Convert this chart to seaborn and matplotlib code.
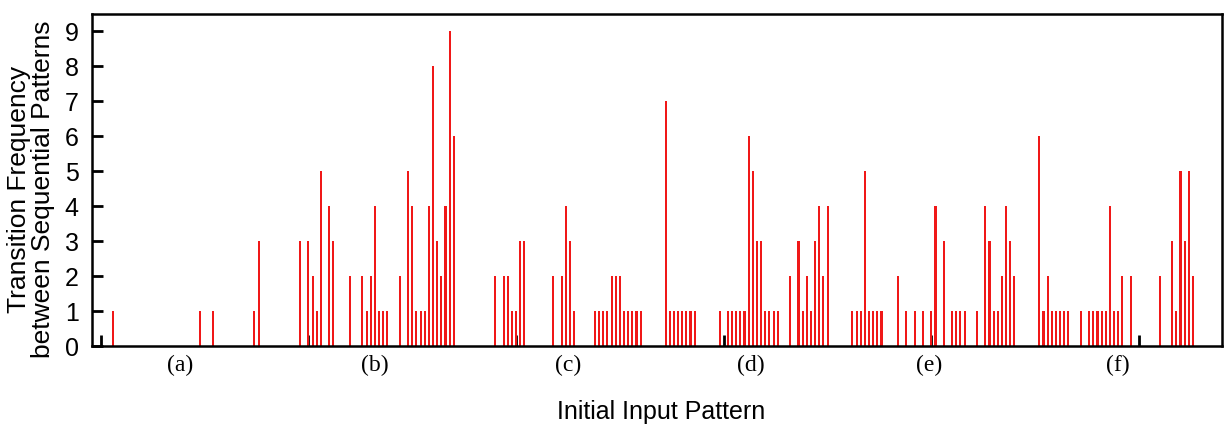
import numpy as np
import pandas as pd
import matplotlib
matplotlib.use('Agg')
import matplotlib.pyplot as plt
import seaborn as sns

# input pattern index (x) and transition frequency (y)
pattern_idx = [3, 24, 27, 37, 38,
               48, 50, 51, 52, 53, 55, 56, 60, 63, 64, 65, 66, 67, 68, 69, 72, 74, 75, 76, 77, 78, 79, 80, 81, 82, 83, 84, 85,
               95, 97, 98, 99, 100, 101, 102, 109, 111, 112, 113, 114, 119, 120, 121, 122, 123, 124, 125, 126, 127, 128, 129, 130,
               136, 137, 138, 139, 140, 141, 142, 143, 149, 151, 152, 153, 154, 155, 156, 157, 158, 159, 160, 161, 162, 163,
               166, 168, 169, 170, 171, 172, 173, 174, 175,
               181, 182, 183, 184, 185, 186, 187, 188, 192, 194, 196, 198, 200, 201, 203, 205, 206, 207, 208, 211,
               213, 214, 215, 216, 217, 218, 219, 220,
               226, 227, 228, 229, 230, 231, 232, 233, 236, 238, 239, 240, 241, 242, 243, 244, 245, 246, 248,
               255, 258, 259, 260, 261, 262, 263]
freq = [1, 1, 1, 1, 3,
        3, 3, 2, 1, 5, 4, 3, 2, 2, 1, 2, 4, 1, 1, 1, 2, 5, 4, 1, 1, 1, 4, 8, 3, 2, 4, 9, 6,
        2, 2, 2, 1, 1, 3, 3, 2, 2, 4, 3, 1, 1, 1, 1, 1, 2, 2, 2, 1, 1, 1, 1, 1,
        7, 1, 1, 1, 1, 1, 1, 1, 1, 1, 1, 1, 1, 1, 6, 5, 3, 3, 1, 1, 1, 1,
        2, 3, 1, 2, 1, 3, 4, 2, 4,
        1, 1, 1, 5, 1, 1, 1, 1, 2, 1, 1, 1, 1, 4, 3, 1, 1, 1, 1, 1,
        4, 3, 1, 1, 2, 4, 3, 2,
        6, 1, 2, 1, 1, 1, 1, 1, 1, 1, 1, 1, 1, 1, 4, 1, 1, 2, 2,
        2, 3, 1, 5, 3, 5, 2]

group_names = ['(a)', '(b)', '(c)', '(d)', '(e)', '(f)']
group_pos = [19, 66, 112.5, 156.5, 199.5, 245]

sns.set_style('ticks')
plt.rcParams['font.family'] = ['Liberation Sans', 'DejaVu Sans']
plt.rcParams['text.color'] = 'black'
plt.rcParams['axes.labelcolor'] = 'black'

df = pd.DataFrame({'pattern': pattern_idx, 'freq': freq})

fig = plt.figure(figsize=(12.25, 4.33), dpi=100)
ax = fig.add_axes([0.0755, 0.2009, 0.9221, 0.7679])
sns.barplot(data=df, x='pattern', y='freq', native_scale=True, width=0.5,
            color='#f01818', saturation=1, errorbar=None, linewidth=0, ax=ax)

ax.set_xlim(-2, 270)
ax.set_ylim(0, 9.5)
ax.set_yticks(range(10))
ax.set_xticks(range(0, 251, 50))
ax.set_xticklabels([])
ax.tick_params(direction='in', length=8, width=2, labelsize=18, colors='black')
ax.tick_params(axis='y', pad=10)
for s in ax.spines.values():
    s.set_linewidth(1.8)
    s.set_color('black')

# group names under the axis
for name, p in zip(group_names, group_pos):
    ax.text(p, -0.057, name, transform=ax.get_xaxis_transform(), ha='center', va='center',
            fontsize=17, color='black', family=['Liberation Serif', 'DejaVu Serif'])

ax.set_xlabel('Initial Input Pattern', fontsize=18, color='black')
ax.xaxis.set_label_coords(0.503, -0.198)
ax.xaxis.label.set_va('center')
ax.set_ylabel('Transition Frequency\nbetween Sequential Patterns', fontsize=19, linespacing=1.0, color='black')
ax.yaxis.set_label_coords(-0.0545, 0.47)
ax.yaxis.label.set_va('center')
ax.yaxis.label.set_ha('center')

fig.savefig('out.png', dpi=100)
